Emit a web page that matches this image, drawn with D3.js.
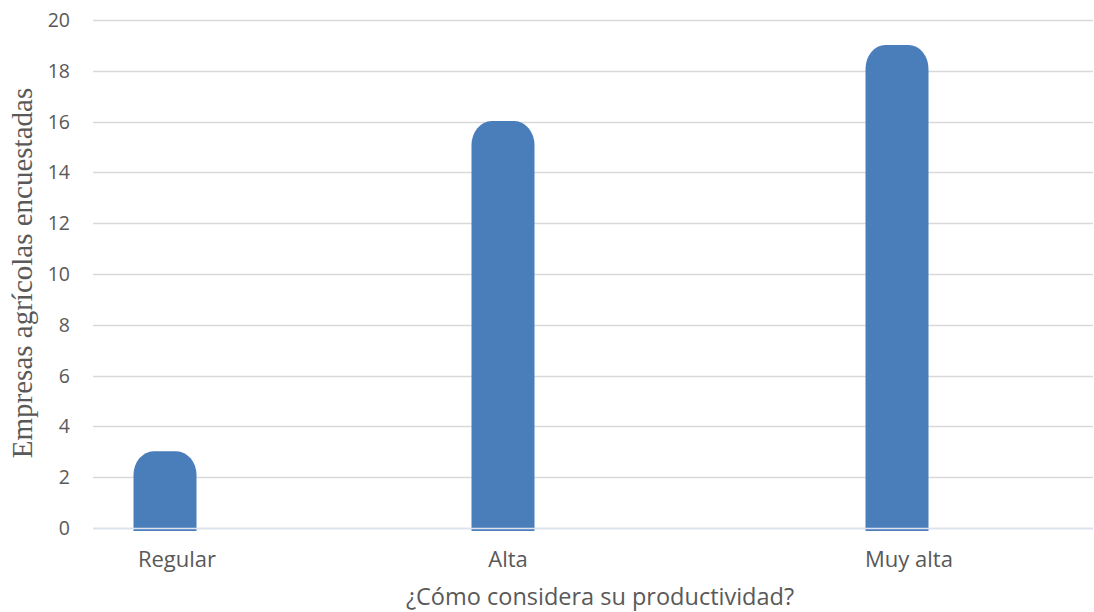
<!DOCTYPE html>
<html>
<head>
<meta charset="utf-8">
<script src="https://cdn.jsdelivr.net/npm/d3@7"></script>
<style>
body { margin: 0; background: #fff; }
text { font-family: "Open Sans", "Noto Sans", sans-serif; fill: #595959; }
</style>
</head>
<body>
<script>
var categories = ["Regular", "Alta", "Muy alta"];
var values = [3, 16, 19];
var yTicks = [0, 2, 4, 6, 8, 10, 12, 14, 16, 18, 20];
var yTitle = "Empresas agrícolas encuestadas";
var xTitle = "¿Cómo considera su productividad?";

var W = 1094, H = 612;
var plot = { left: 93, right: 1093, top: 20, bottom: 528 };
var barW = 63, rx = 20, ry = 24;

var svg = d3.select("body").append("svg").attr("width", W).attr("height", H);

var y = d3.scaleLinear().domain([0, 20]).range([plot.bottom, plot.top]);
// category centres, as laid out in the original chart
var x = d3.scaleOrdinal().domain(categories).range([165, 503, 897]);
var xLab = d3.scaleOrdinal().domain(categories).range([177, 508, 909]);

// grid
svg.append("g").selectAll("line").data(yTicks).join("line")
	.attr("x1", plot.left).attr("x2", plot.right)
	.attr("y1", d => Math.round(y(d)) + 0.5).attr("y2", d => Math.round(y(d)) + 0.5)
	.attr("stroke", "#d9d9d9").attr("stroke-width", 1.5);

// y tick labels
svg.append("g").selectAll("text").data(yTicks).join("text")
	.attr("x", 70).attr("y", d => y(d))
	.attr("dy", "0.36em").attr("text-anchor", "end")
	.attr("font-size", 19.5).text(d => d);

// bars with rounded tops
function barPath(cx, top, bottom) {
	var l = cx - barW / 2, r = cx + barW / 2;
	return "M" + l + "," + bottom + "V" + (top + ry) +
		"A" + rx + "," + ry + " 0 0 1 " + (l + rx) + "," + top +
		"H" + (r - rx) +
		"A" + rx + "," + ry + " 0 0 1 " + r + "," + (top + ry) +
		"V" + bottom + "Z";
}
svg.append("g").selectAll("path").data(values).join("path")
	.attr("d", (d, i) => barPath(x(categories[i]), y(d) - 0.5, plot.bottom + 3))
	.attr("fill", "#4a7ebb");

// baseline over bars
svg.append("line")
	.attr("x1", plot.left).attr("x2", plot.right)
	.attr("y1", Math.round(y(0)) + 0.5).attr("y2", Math.round(y(0)) + 0.5)
	.attr("stroke", "#dde3ee").attr("stroke-width", 1.5);

// category labels
svg.append("g").selectAll("text").data(categories).join("text")
	.attr("x", d => xLab(d)).attr("y", 567)
	.attr("text-anchor", "middle").attr("font-size", 22).text(d => d);

// axis titles
svg.append("text")
	.attr("x", 600).attr("y", 605)
	.attr("text-anchor", "middle").attr("font-size", 23.5).text(xTitle);

svg.append("text")
	.attr("transform", "translate(32," + 273 + ") rotate(-90)")
	.attr("text-anchor", "middle")
	.style("font-family", "'Liberation Serif', 'Times New Roman', serif")
	.attr("font-size", 29).text(yTitle);
</script>
</body>
</html>
